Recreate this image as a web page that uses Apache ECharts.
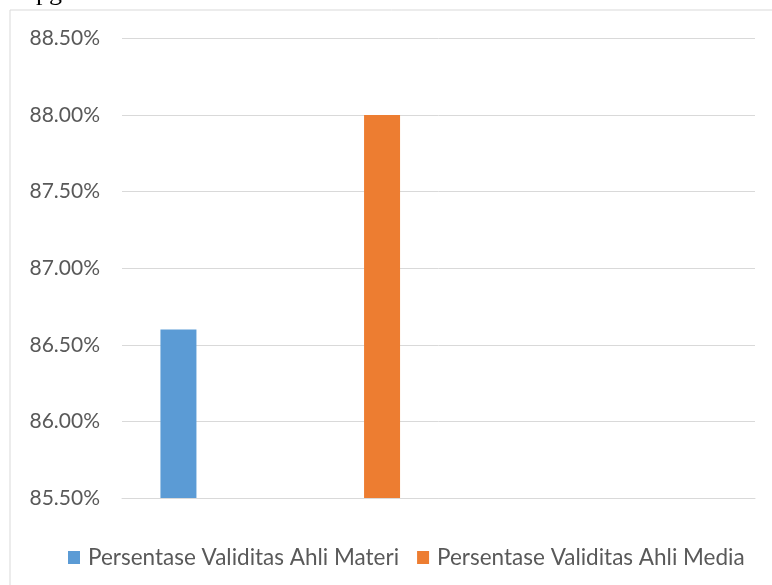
<!DOCTYPE html>
<html>
<head>
<meta charset="utf-8">
<script src="https://cdn.jsdelivr.net/npm/echarts@6/dist/echarts.min.js"></script>
<style>
html,body{margin:0;padding:0;background:#fff;}
#chart{width:772px;height:585px;}
</style>
</head>
<body>
<div id="chart"></div>
<script>
var categories = ["", "", "", ""];
var seriesNames = ["Persentase Validitas Ahli Materi", "Persentase Validitas Ahli Media"];
var materiValues = [86.6, null, null, null];
var mediaValues = [null, 88.0, null, null];
var yTicks = [85.5, 86.0, 86.5, 87.0, 87.5, 88.0, 88.5];
var topFragment = "pg";

var FONT = "Lato";
var chart = echarts.init(document.getElementById('chart'), null, {renderer: 'canvas'});
chart.setOption({
  animation: false,
  backgroundColor: '#ffffff',
  graphic: [
    {type: 'rect', shape: {x: 10, y: 10, width: 800, height: 620},
     style: {fill: 'none', stroke: '#d9d9d9', lineWidth: 1}, silent: true},
    {type: 'text', x: 36, y: 6,
     style: {text: topFragment, font: '26px "Liberation Serif"', fill: '#000', verticalAlign: 'bottom'}, silent: true}
  ],
  grid: {left: 122, right: 17, top: 38.5, bottom: 87, containLabel: false},
  legend: {
    left: 68, top: 546, padding: 0,
    itemWidth: 12, itemHeight: 13, itemGap: 18,
    icon: 'rect',
    data: seriesNames,
    textStyle: {fontFamily: FONT, fontSize: 22.5, color: '#595959', padding: [0, 0, 0, 3]}
  },
  xAxis: {
    type: 'category', data: categories,
    axisLine: {show: true, lineStyle: {color: '#d9d9d9', width: 1}},
    axisTick: {show: false}, axisLabel: {show: false}
  },
  yAxis: {
    type: 'value', min: yTicks[0], max: yTicks[yTicks.length - 1], interval: 0.5,
    axisLine: {show: false}, axisTick: {show: false},
    splitLine: {lineStyle: {color: '#d9d9d9', width: 1}},
    axisLabel: {
      margin: 22, fontFamily: FONT, fontSize: 21, color: '#595959',
      formatter: function (v) { return v.toFixed(2) + '%'; }
    }
  },
  series: [
    {name: seriesNames[0], type: 'bar', data: materiValues, barWidth: 36, barGap: '26%',
     itemStyle: {color: '#5B9BD5'}},
    {name: seriesNames[1], type: 'bar', data: mediaValues, barWidth: 36, barGap: '26%',
     itemStyle: {color: '#ED7D31'}}
  ]
});
</script>
</body>
</html>
